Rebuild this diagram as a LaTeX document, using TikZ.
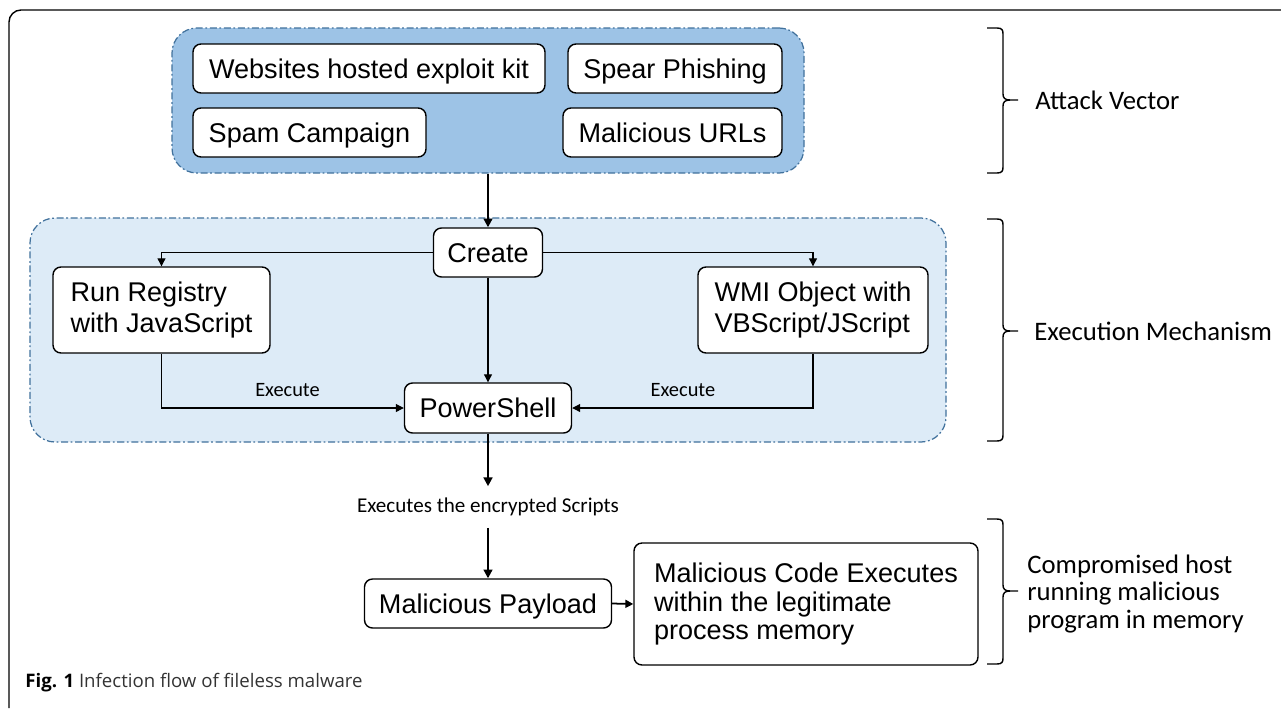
\documentclass[tikz,border=0pt]{standalone}
\usepackage{fontspec}
\setmainfont{Liberation Sans}
\newfontfamily\calfont{Carlito}
\newfontfamily\capfont{Open Sans}
\usetikzlibrary{arrows.meta}

\definecolor{vectorblue}{HTML}{9DC3E6}
\definecolor{mechblue}{HTML}{DDEBF7}
\definecolor{edgeblue}{HTML}{41719C}

\begin{document}
\begin{tikzpicture}[x=0.02cm, y=-0.02cm]

% Parameters
\def\pxu{0.02cm}

% Define styles
\tikzstyle{box}=[draw, line width=0.8pt, rounded corners=0.16cm, fill=white, inner sep=0pt, align=left, font=\fontsize{15.4}{18}\selectfont]
\tikzstyle{oneline}=[box, text height=11pt, text depth=0pt]
\tikzstyle{group}=[draw=edgeblue, line width=0.7pt, rounded corners=0.5cm, dash pattern=on 4pt off 1.5pt on 1pt off 1.5pt, inner sep=0pt]
\tikzstyle{flow}=[line width=1.2pt, -{Triangle[length=5pt,width=5pt]}]
\tikzstyle{link}=[line width=0.6pt, -{Triangle[length=4.5pt,width=4.5pt]}]
\tikzstyle{note}=[font=\calfont\fontsize{11.6}{14}\selectfont]
\tikzstyle{side}=[font=\calfont\fontsize{15.2}{15.4}\selectfont, align=left, anchor=west, inner sep=0pt]
\tikzstyle{curly}=[line width=0.8pt]

\useasboundingbox (0,0) rectangle (1281,708);

% Outer frame
\draw[line width=0.8pt, rounded corners=0.24cm] (1281,10) -- (9,10) -- (9,708);

% Attack vector
\node[group, fill=vectorblue, minimum width=632*\pxu, minimum height=145*\pxu] (vector) at (488,100.5) {};
\node[oneline, minimum width=352*\pxu, minimum height=49*\pxu] (kit) at (369,68.5) {Websites hosted exploit kit};
\node[oneline, minimum width=214*\pxu, minimum height=49*\pxu] (spear) at (675,68.5) {Spear Phishing};
\node[oneline, minimum width=233*\pxu, minimum height=49*\pxu] (spam) at (309.5,132.5) {Spam Campaign};
\node[oneline, minimum width=219*\pxu, minimum height=49*\pxu] (urls) at (672.5,132.5) {Malicious URLs};

% Execution mechanism
\node[group, fill=mechblue, minimum width=916*\pxu, minimum height=224*\pxu] (mech) at (488,330) {};
\node[oneline, minimum width=109*\pxu, minimum height=49*\pxu] (create) at (488,252.5) {Create};
\node[box, minimum width=217*\pxu, minimum height=86*\pxu] (registry) at (161.5,310) {Run Registry\\with JavaScript};
\node[box, minimum width=230*\pxu, minimum height=86*\pxu] (wmi) at (813,310) {WMI Object with\\VBScript/JScript};
\node[oneline, minimum width=167*\pxu, minimum height=50*\pxu] (shell) at (488,408) {PowerShell};

% Compromised host
\node[note, font=\calfont\fontsize{12}{14}\selectfont, inner ysep=6.5pt] (scripts) at (488,507) {Executes the encrypted Scripts};
\node[oneline, minimum width=247*\pxu, minimum height=49*\pxu] (payload) at (488,603.5) {Malicious Payload};
\node[box, minimum width=344*\pxu, minimum height=122*\pxu, font=\fontsize{15.4}{16}\selectfont] (code) at (806,604) {Malicious Code Executes\\within the legitimate\\process memory};

% Arrows
\draw[flow] (vector.south) -- (create.north);
\draw[link] (create.west) -| (registry.north);
\draw[link] (create.east) -| (wmi.north);
\draw[link] (create.south) -- (shell.north);
\draw[link] (registry.south) |- node[note, pos=0.76, above=3pt] {Execute} (shell.west);
\draw[link] (wmi.south) |- node[note, pos=0.77, above=3pt] {Execute} (shell.east);
\draw[flow] (shell.south) -- (scripts.north);
\draw[flow] (scripts.south) -- (payload.north);
\draw[line width=1pt, -{Triangle[length=4.5pt,width=4.5pt]}] (payload.east) -- (code.west);

% Braces (top/tip/bottom)
\foreach \t/\m/\b in {28/100/173, 219/331/441, 519/591/664} {
  \draw[curly] (987,\t) -- (997,\t) .. controls (1002,\t) and (1003,\t+2) .. (1003,\t+6)
    -- (1003,\m-6) .. controls (1003,\m-2) and (1005,\m) .. (1010,\m) -- (1018,\m);
  \draw[curly] (1010,\m) .. controls (1005,\m) and (1003,\m+2) .. (1003,\m+6)
    -- (1003,\b-6) .. controls (1003,\b-2) and (1002,\b) .. (997,\b) -- (987,\b);
}

% Stage labels
\node[side] (vectorlabel) at (1035,100) {Attack Vector};
\node[side] (mechlabel) at (1034,331) {Execution Mechanism};
\node[side] (hostlabel) at (1027,594) {Compromised host\\running malicious\\program in memory};

% Caption
\node[anchor=west, inner sep=0pt, font=\capfont\fontsize{10.6}{13}\selectfont, text=black!80] (caption) at (25,683) {\textbf{\color{black}Fig. 1} Infection flow of fileless malware};

\end{tikzpicture}
\end{document}
